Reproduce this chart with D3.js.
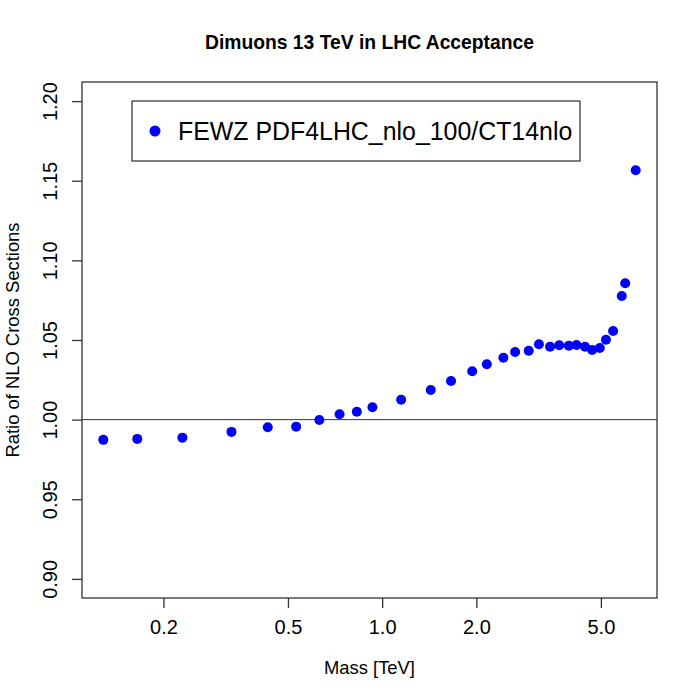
<!DOCTYPE html>
<html>
<head>
<meta charset="utf-8">
<script src="https://cdn.jsdelivr.net/npm/d3@7"></script>
<style>
  body { margin: 0; background: #fff; }
  text { font-family: "Liberation Sans", Arial, Helvetica, sans-serif; fill: #000; }
</style>
</head>
<body>
<svg id="chart" width="700" height="700"></svg>
<script>
// Dilepton mass points (TeV) and PDF4LHC/CT14 NLO ratio
const masses = [0.1285, 0.165, 0.230, 0.330, 0.431, 0.531, 0.630, 0.731, 0.830, 0.931,
  1.15, 1.43, 1.66, 1.94, 2.16, 2.44, 2.66, 2.94, 3.17, 3.44, 3.68, 3.95, 4.18, 4.45,
  4.69, 4.96, 5.19, 5.47, 5.83, 5.98, 6.46];
const ratios = [0.9873, 0.9879, 0.9887, 0.9923, 0.9952, 0.9956, 0.9998, 1.0034, 1.0050, 1.0078,
  1.0125, 1.0186, 1.0243, 1.0304, 1.0348, 1.0389, 1.0425, 1.0433, 1.0473, 1.0458, 1.0467, 1.0464, 1.0469, 1.0458,
  1.0437, 1.0450, 1.0502, 1.0556, 1.0776, 1.0856, 1.1566];

const xTicks = [0.2, 0.5, 1, 2, 5];
const yTicks = [0.90, 0.95, 1.00, 1.05, 1.10, 1.15, 1.20];
const yLimits = [0.9, 1.2];

const titleText = 'Dimuons 13 TeV in LHC Acceptance';
const xLabel = 'Mass [TeV]';
const yLabel = 'Ratio of NLO Cross Sections';
const legendLabel = 'FEWZ PDF4LHC_nlo_100/CT14nlo';

const plotLeft = 82, plotRight = 657, plotTop = 82, plotBottom = 598;
const svg = d3.select('#chart');

// R style: 4% padding on each side (log space for x)
const lx = d3.extent(masses).map(Math.log10);
const padX = (lx[1] - lx[0]) * 0.04;
const x = d3.scaleLog()
  .domain([Math.pow(10, lx[0] - padX), Math.pow(10, lx[1] + padX)])
  .range([plotLeft, plotRight]);

const padY = (yLimits[1] - yLimits[0]) * 0.04;
const y = d3.scaleLinear()
  .domain([yLimits[0] - padY, yLimits[1] + padY])
  .range([plotBottom, plotTop]);

// reference line at 1
svg.append('line')
  .attr('x1', plotLeft).attr('x2', plotRight)
  .attr('y1', y(1)).attr('y2', y(1))
  .attr('stroke', '#333').attr('stroke-width', 1);

// points
svg.append('g')
  .selectAll('circle')
  .data(masses.map((m, i) => [m, ratios[i]]))
  .enter()
  .append('circle')
  .attr('cx', d => x(d[0]))
  .attr('cy', d => y(d[1]))
  .attr('r', 5)
  .attr('fill', '#0000ff');

// box
svg.append('rect')
  .attr('x', plotLeft).attr('y', plotTop)
  .attr('width', plotRight - plotLeft).attr('height', plotBottom - plotTop)
  .attr('fill', 'none').attr('stroke', '#333').attr('stroke-width', 1.3);

// x axis
const xAxis = svg.append('g')
  .attr('transform', `translate(0,${plotBottom})`)
  .call(d3.axisBottom(x).tickValues(xTicks).tickFormat(d3.format('.1f')).tickSize(10).tickPadding(12));
xAxis.select('.domain').remove();
xAxis.selectAll('line').attr('stroke', '#333').attr('stroke-width', 1.3);
xAxis.selectAll('text').attr('font-size', 20).style('font-family', '"Liberation Sans", Arial, sans-serif').attr('fill', '#000');

// y axis (labels parallel to axis)
const yAxis = svg.append('g')
  .attr('transform', `translate(${plotLeft},0)`)
  .call(d3.axisLeft(y).tickValues(yTicks).tickFormat(d3.format('.2f')).tickSize(10));
yAxis.select('.domain').remove();
yAxis.selectAll('line').attr('stroke', '#333').attr('stroke-width', 1.3);
yAxis.selectAll('text')
  .attr('x', null).attr('dy', null)
  .attr('text-anchor', 'middle')
  .attr('transform', 'translate(-25,0) rotate(-90)')
  .attr('font-size', 20)
  .style('font-family', '"Liberation Sans", Arial, sans-serif')
  .attr('fill', '#000');

// title and labels
svg.append('text')
  .attr('x', (plotLeft + plotRight) / 2).attr('y', 49)
  .attr('text-anchor', 'middle')
  .attr('font-size', 19.3).attr('font-weight', 'bold')
  .text(titleText);

svg.append('text')
  .attr('x', (plotLeft + plotRight) / 2).attr('y', 674)
  .attr('text-anchor', 'middle')
  .attr('font-size', 18.4)
  .text(xLabel);

svg.append('text')
  .attr('transform', `translate(19,${(plotTop + plotBottom) / 2}) rotate(-90)`)
  .attr('text-anchor', 'middle')
  .attr('font-size', 18.4)
  .text(yLabel);

// legend
const legend = svg.append('g');
legend.append('rect')
  .attr('x', 132).attr('y', 101).attr('width', 448).attr('height', 60)
  .attr('fill', '#fff').attr('stroke', '#000').attr('stroke-width', 1);
legend.append('circle')
  .attr('cx', 155).attr('cy', 131).attr('r', 5.5).attr('fill', '#0000ff');
legend.append('text')
  .attr('x', 178).attr('y', 140)
  .attr('font-size', 24.9)
  .text(legendLabel);
</script>
</body>
</html>
